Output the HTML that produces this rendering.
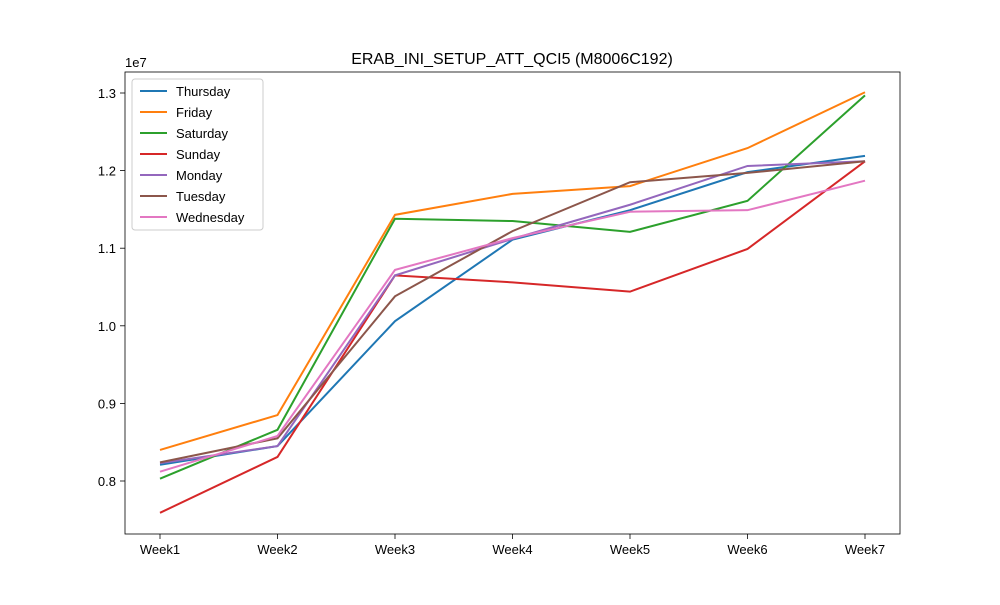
<!DOCTYPE html>
<html><head><meta charset="utf-8"><style>
body{margin:0;background:#fff;}
svg text{font-family:"Liberation Sans","DejaVu Sans",sans-serif;}
</style></head><body>
<svg id="chart" width="1000" height="600" xmlns="http://www.w3.org/2000/svg">
<rect width="1000" height="600" fill="#fff"/>
<text x="512" y="64" text-anchor="middle" font-size="16">ERAB_INI_SETUP_ATT_QCI5 (M8006C192)</text>
<g id="plot"></g>
</svg>
<script>
const categories = ["Week1","Week2","Week3","Week4","Week5","Week6","Week7"];
const seriesNames = ["Thursday","Friday","Saturday","Sunday","Monday","Tuesday","Wednesday"];
const thursday = [0.821,0.845,1.006,1.111,1.149,1.198,1.219];
const friday = [0.840,0.885,1.143,1.170,1.180,1.229,1.301];
const saturday = [0.803,0.866,1.138,1.135,1.121,1.161,1.297];
const sunday = [0.759,0.831,1.065,1.056,1.044,1.099,1.212];
const monday = [0.823,0.845,1.065,1.112,1.156,1.206,1.212];
const tuesday = [0.824,0.855,1.038,1.122,1.185,1.197,1.212];
const wednesday = [0.812,0.858,1.072,1.113,1.147,1.149,1.187];
const yTicks = [0.8,0.9,1.0,1.1,1.2,1.3];
const yTickLabels = ["0.8","0.9","1.0","1.1","1.2","1.3"];

const seriesData = [thursday,friday,saturday,sunday,monday,tuesday,wednesday];
const colors = ["#1f77b4","#ff7f0e","#2ca02c","#d62728","#9467bd","#8c564b","#e377c2"];
const L=125,R=900,T=72,B=534;
function xs(i){return 160+i*(865-160)/(categories.length-1);}
function ys(v){return 481-(v-0.8)*776;}
const NS="http://www.w3.org/2000/svg";
const g=document.getElementById('plot');
function mk(t,a,txt){const e=document.createElementNS(NS,t);for(const k in a)e.setAttribute(k,a[k]);if(txt!==undefined)e.textContent=txt;g.appendChild(e);return e;}

categories.forEach((c,i)=>{
  const t=mk('line',{x1:xs(i),x2:xs(i),y1:B,y2:B+5,stroke:'#000','stroke-width':0.8});
  
  
  const l=mk('text',{x:xs(i),y:B+20,'text-anchor':'middle','font-size':13},c);
  
  
});
yTicks.forEach((v,i)=>{
  const t=mk('line',{x1:L-5,x2:L,y1:ys(v),y2:ys(v),stroke:'#000','stroke-width':0.8});
  
  
  const l=mk('text',{x:L-9,y:ys(v)+5,'text-anchor':'end','font-size':13},yTickLabels[i]);
  
  
});
const off=mk('text',{x:L,y:T-5,'font-size':13},'1e7');



seriesData.forEach((d,s)=>{
  const p=mk('polyline',{points:d.map((v,i)=>xs(i)+','+ys(v)).join(' '),fill:'none',stroke:colors[s],'stroke-width':2});
  
  
});

const frame=mk('rect',{x:L,y:T,width:R-L,height:B-T,fill:'none',stroke:'#000','stroke-width':0.8});



const lg=mk('rect',{x:132,y:79,width:131,height:151,fill:'#fff',stroke:'#ccc','stroke-width':1,rx:3});


seriesNames.forEach((n,s)=>{
  const y=91+s*21;
  const ln=mk('line',{x1:140,x2:167,y1:y,y2:y,stroke:colors[s],'stroke-width':2});
  
  
  const tx=mk('text',{x:176,y:y+5,'font-size':13},n);
  
  
});
</script>
</body></html>
